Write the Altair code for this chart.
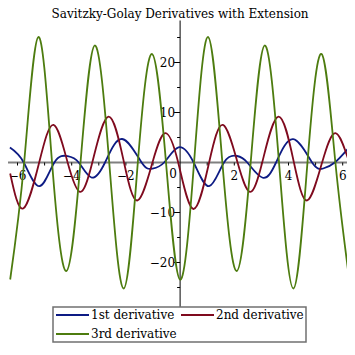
import altair as alt
import pandas as pd

TITLE = "Savitzky-Golay Derivatives with Extension"
series_names = ["1st derivative", "2nd derivative", "3rd derivative"]
series_colors = ["#0D1B84", "#7F0A1E", "#4D7C0F"]

# 1st derivative (extrema and zero crossings)
d1_x = [-6.28, -5.77, -5.19, -4.64, -4.15, -3.74, -3.27, -2.77, -2.14, -1.42, -1.03, -0.59, -0.06,
        0.50, 1.07, 1.62, 2.10, 2.48, 3.05, 3.54, 4.17, 4.87, 5.28, 5.71, 6.24]
d1_y = [2.98, 0.0, -4.74, 0.0, 1.28, 0.0, -3.0, 0.0, 4.70, 0.0, -1.23, 0.0, 3.04,
        0.0, -4.74, 0.0, 1.30, 0.0, -3.05, 0.0, 4.66, 0.0, -1.20, 0.0, 3.02]

# 2nd derivative
d2_x = [-6.27, -5.79, -5.20, -4.67, -4.15, -3.69, -3.24, -2.64, -2.07, -1.57, -1.02, -0.55, -0.07,
        0.49, 1.07, 1.58, 2.12, 2.58, 3.03, 3.63, 4.20, 4.69, 5.24, 5.73, 6.22]
d2_y = [-2.2, -9.2, 0.0, 7.53, 0.0, -5.88, 0.0, 9.18, 0.0, -7.59, 0.0, 5.88, 0.0,
        -9.3, 0.0, 7.53, 0.0, -5.88, 0.0, 9.18, 0.0, -7.59, 0.0, 5.88, 0.4]

# 3rd derivative
d3_x = [-6.27, -5.755, -5.23, -4.725, -4.20, -3.675, -3.15, -2.615, -2.08, -1.56, -1.04, -0.52, 0.0,
        0.515, 1.03, 1.56, 2.09, 2.605, 3.12, 3.65, 4.18, 4.70, 5.22, 5.73, 6.24]
d3_y = [-23.4, 0.0, 25.1, 0.0, -21.7, 0.0, 23.4, 0.0, -25.2, 0.0, 21.7, 0.0, -23.45,
        0.0, 25.1, 0.0, -21.7, 0.0, 23.4, 0.0, -25.2, 0.0, 21.7, 0.0, -23.3]

x_major = [-6, -4, -2, 2, 4, 6]
x_major_labels = ["\u22126", "\u22124", "\u22122", "2", "4", "6"]
x_minor = [-5, -3, -1, 1, 3, 5]
y_major = [-20, -10, 10, 20]
y_major_labels = ["\u221220", "\u221210", "10", "20"]
y_minor = [-25, -15, -5, 5, 15, 25]
x_axis_range = [-6.4, 6.4]
y_axis_range = [-28.9, 28.4]

FONT = "DejaVu Serif"

# ---- layout (pixels) ----
W = 339
H = 335
X0 = 172.1      # pixel of x = 0
PXX = 27.1      # pixels per x unit
Y0 = 154.5      # pixel of y = 0
PXY = 5.0       # pixels per y unit

xs = alt.Scale(domain=[-X0 / PXX, (W - X0) / PXX], nice=False, zero=False)
ys = alt.Scale(domain=[(Y0 - H) / PXY, Y0 / PXY], nice=False, zero=False)

X = lambda f: alt.X(f, type="quantitative", scale=xs, axis=None)
Y = lambda f: alt.Y(f, type="quantitative", scale=ys, axis=None)

rows = []
for name, xv, yv in zip(series_names, [d1_x, d2_x, d3_x], [d1_y, d2_y, d3_y]):
    for a, b in zip(xv, yv):
        rows.append({"x": a, "y": b, "series": name})
df = pd.DataFrame(rows)

xaxis = alt.Chart(pd.DataFrame({"x": [x_axis_range[0]], "x2": [x_axis_range[1]], "y": [0]})).mark_rule(
    color="#808080", strokeWidth=2, clip=True).encode(x=X("x"), x2="x2", y=Y("y"))

yaxis = alt.Chart(pd.DataFrame({"x": [0], "y": [y_axis_range[0]], "y2": [y_axis_range[1]]})).mark_rule(
    color="black", strokeWidth=1).encode(x=X("x"), y=Y("y"), y2="y2")

xt = pd.DataFrame({"x": x_major + x_minor})
xt["y"] = 0.0
xt["y2"] = -3.0 / PXY
xticks = alt.Chart(xt).mark_rule(color="black", strokeWidth=1).encode(x=X("x"), y=Y("y"), y2="y2")

ytm = pd.DataFrame({"y": y_major})
ytm["x"] = -6.0 / PXX
ytm["x2"] = 0.0
ytn = pd.DataFrame({"y": y_minor})
ytn["x"] = -3.0 / PXX
ytn["x2"] = 0.0
yticks = alt.Chart(pd.concat([ytm, ytn])).mark_rule(color="black", strokeWidth=1).encode(
    x=X("x"), x2="x2", y=Y("y"))

xl = pd.DataFrame({"x": x_major, "t": x_major_labels})
xl["y"] = 0.0
xlabels = alt.Chart(xl).mark_text(font=FONT, fontSize=12, color="black", baseline="middle",
                                   align="center", dy=13).encode(x=X("x"), y=Y("y"), text="t:N")

zl = alt.Chart(pd.DataFrame({"x": [0], "y": [0], "t": ["0"]})).mark_text(
    font=FONT, fontSize=12, color="black", baseline="middle", align="center", dx=-7, dy=11).encode(
    x=X("x"), y=Y("y"), text="t:N")

yl = pd.DataFrame({"y": y_major, "t": y_major_labels})
yl["x"] = 0.0
ylabels = alt.Chart(yl).mark_text(font=FONT, fontSize=12, color="black", baseline="middle",
                                   align="right", dx=-5).encode(x=X("x"), y=Y("y"), text="t:N")

lines = alt.Chart(df).mark_line(interpolate="natural", strokeWidth=1.8, clip=True).encode(
    x=X("x"), y=Y("y"),
    color=alt.Color("series:N", scale=alt.Scale(domain=series_names, range=series_colors),
                    legend=alt.Legend(title=None, orient="none", legendX=45, legendY=299,
                                      direction="horizontal",
                                      columns=2, symbolType="stroke", symbolSize=1089,
                                      symbolStrokeWidth=2, clipHeight=12, rowPadding=7,
                                      columnPadding=3, labelOffset=1, padding=2,
                                      strokeColor="#707070", fillColor="white",
                                      labelFont=FONT, labelFontSize=12, labelColor="black")),
)

title = alt.Chart(pd.DataFrame({"t": [TITLE]})).mark_text(
    font=FONT, fontSize=12, color="black", align="center", baseline="alphabetic").encode(
    x=alt.value(X0), y=alt.value(9.5), text="t:N")

chart = alt.layer(xaxis, yaxis, xticks, yticks, xlabels, zl, ylabels, lines, title).properties(
    width=W, height=H, padding=0, background="white",
    autosize=alt.AutoSizeParams(type="none"),
).configure_view(stroke=None).configure_legend(strokeWidth=1.5)

chart.save("out.html", embed_options={"renderer": "svg", "actions": False})
